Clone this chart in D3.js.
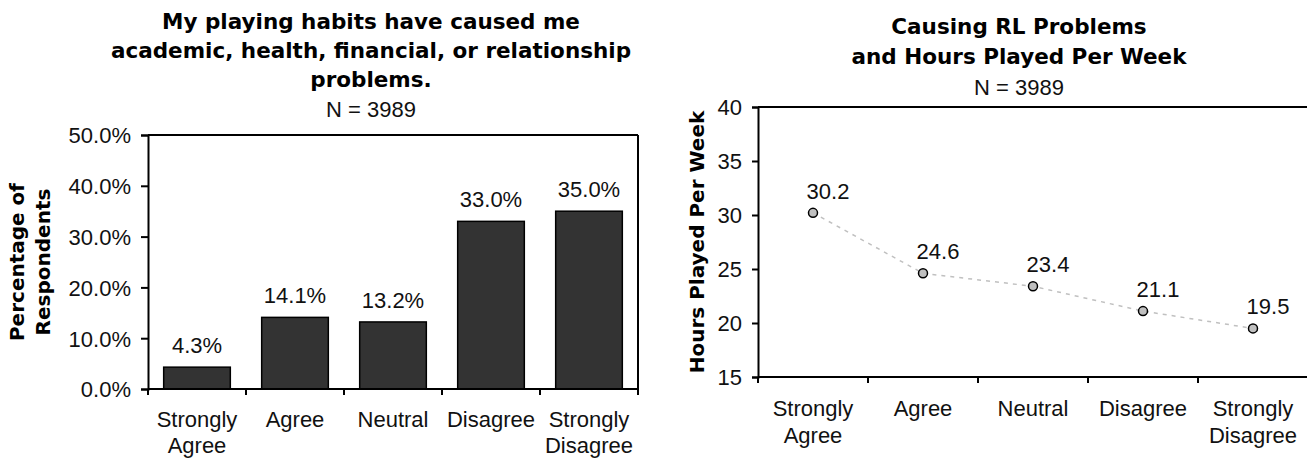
<!DOCTYPE html>
<html>
<head>
<meta charset="utf-8">
<script src="https://cdn.jsdelivr.net/npm/d3@7"></script>
<style>
  html, body { margin: 0; padding: 0; background: #fff; }
  svg { display: block; }
  .reg { font-family: "Liberation Sans", Arial, sans-serif; font-size: 22px; fill: #111; }
  .bold { font-family: "DejaVu Sans", Verdana, sans-serif; font-weight: bold; fill: #000; }
</style>
</head>
<body>
<svg id="chart" width="1307" height="460"></svg>
<script>
// ---------- DATA ----------
const categories = ["Strongly Agree", "Agree", "Neutral", "Disagree", "Strongly Disagree"];
const percentValues = [4.3, 14.1, 13.2, 33.0, 35.0];
const hoursValues = [30.2, 24.6, 23.4, 21.1, 19.5];
const percentTicks = [0, 10, 20, 30, 40, 50];
const hoursTicks = [15, 20, 25, 30, 35, 40];
const leftTitle = ["My playing habits have caused me", "academic, health, financial, or relationship", "problems."];
const rightTitle = ["Causing RL Problems", "and Hours Played Per Week"];
const subtitle = "N = 3989";
const leftYTitle = ["Percentage of", "Respondents"];
const rightYTitle = "Hours Played Per Week";

const svg = d3.select("#chart");

function splitLabel(s) {
  if (s.startsWith("Strongly ")) return ["Strongly", s.slice(9)];
  return [s];
}

function styleAxis(g) {
  g.select(".domain").attr("stroke", "#000").attr("stroke-width", 2);
  g.selectAll(".tick line").attr("stroke", "#000").attr("stroke-width", 2);
}

function categoryAxis(g, x, yBase, baseline1, lineGap) {
  const [r0, r1] = x.range();
  g.append("line").attr("x1", r0).attr("x2", r1).attr("y1", yBase).attr("y2", yBase)
    .attr("stroke", "#000").attr("stroke-width", 2);
  const step = x.step();
  for (let i = 0; i <= categories.length; i++) {
    const bx = r0 + i * step;
    g.append("line").attr("x1", bx).attr("x2", bx).attr("y1", yBase).attr("y2", yBase + 6)
      .attr("stroke", "#000").attr("stroke-width", 2);
  }
  categories.forEach(c => {
    const cx = x(c) + x.bandwidth() / 2;
    const t = g.append("text").attr("class", "reg").attr("text-anchor", "middle")
      .attr("x", cx).attr("y", baseline1);
    splitLabel(c).forEach((ln, i) => {
      t.append("tspan").attr("x", cx).attr("dy", i === 0 ? 0 : lineGap).text(ln);
    });
  });
}

// ================= LEFT CHART =================
{
  const L = { left: 148, right: 638, top: 135, bottom: 389 };
  const x = d3.scaleBand().domain(categories).range([L.left, L.right])
    .paddingInner(0.32).paddingOuter(0.16);
  const y = d3.scaleLinear().domain([0, 50]).range([L.bottom, L.top]);
  const g = svg.append("g");

  const tcx = 371;
  leftTitle.forEach((ln, i) => {
    g.append("text").attr("class", "bold").attr("font-size", 21.5).attr("text-anchor", "middle")
      .attr("x", tcx).attr("y", 29 + i * 29).text(ln);
  });
  g.append("text").attr("class", "reg").attr("text-anchor", "middle")
    .attr("x", tcx).attr("y", 117).text(subtitle);

  g.append("line").attr("x1", L.left).attr("x2", L.right).attr("y1", L.top).attr("y2", L.top)
    .attr("stroke", "#000").attr("stroke-width", 2);
  g.append("line").attr("x1", L.right).attr("x2", L.right).attr("y1", L.top).attr("y2", L.bottom)
    .attr("stroke", "#000").attr("stroke-width", 2);

  g.selectAll("rect.bar").data(categories).join("rect").attr("class", "bar")
    .attr("x", d => x(d)).attr("width", x.bandwidth())
    .attr("y", (d, i) => y(percentValues[i]))
    .attr("height", (d, i) => y(0) - y(percentValues[i]))
    .attr("fill", "#333333").attr("stroke", "#000").attr("stroke-width", 1.5);

  g.selectAll("text.val").data(categories).join("text").attr("class", "reg val")
    .attr("text-anchor", "middle")
    .attr("x", d => x(d) + x.bandwidth() / 2)
    .attr("y", (d, i) => y(percentValues[i]) - 14)
    .text((d, i) => percentValues[i].toFixed(1) + "%");

  const ya = g.append("g").attr("transform", `translate(${L.left},0)`)
    .call(d3.axisLeft(y).tickValues(percentTicks).tickSize(7).tickPadding(10)
      .tickFormat(d => d.toFixed(1) + "%"));
  styleAxis(ya);
  ya.selectAll(".tick text").attr("class", "reg").attr("font-size", null).attr("font-family", null)
    .attr("fill", null).attr("dy", "0.36em");

  categoryAxis(g, x, L.bottom, 427, 26);

  const yt = g.append("text").attr("class", "bold").attr("font-size", 20).attr("text-anchor", "middle")
    .attr("transform", `translate(0,${(L.top + L.bottom) / 2}) rotate(-90)`);
  leftYTitle.forEach((ln, i) => {
    yt.append("tspan").attr("x", 0).attr("y", 24 + i * 26).text(ln);
  });
}

// ================= RIGHT CHART =================
{
  const R = { left: 758, right: 1308, top: 107, bottom: 377 };
  const x = d3.scaleBand().domain(categories).range([R.left, R.right]).paddingInner(0).paddingOuter(0);
  const y = d3.scaleLinear().domain([15, 40]).range([R.bottom, R.top]);
  const g = svg.append("g");

  const tcx = 1019;
  rightTitle.forEach((ln, i) => {
    g.append("text").attr("class", "bold").attr("font-size", 21.5).attr("text-anchor", "middle")
      .attr("x", tcx).attr("y", 34 + i * 30).text(ln);
  });
  g.append("text").attr("class", "reg").attr("text-anchor", "middle")
    .attr("x", tcx).attr("y", 95).text(subtitle);

  g.append("line").attr("x1", R.left).attr("x2", R.right).attr("y1", R.top).attr("y2", R.top)
    .attr("stroke", "#000").attr("stroke-width", 2);
  g.append("line").attr("x1", R.right).attr("x2", R.right).attr("y1", R.top).attr("y2", R.bottom)
    .attr("stroke", "#000").attr("stroke-width", 2);

  const cx = d => x(d) + x.bandwidth() / 2;

  const line = d3.line().x((d, i) => cx(categories[i])).y(d => y(d));
  g.append("path").datum(hoursValues).attr("d", line)
    .attr("fill", "none").attr("stroke", "#c0c0c0").attr("stroke-width", 1.5)
    .attr("stroke-dasharray", "4,5");

  g.selectAll("circle.pt").data(categories).join("circle").attr("class", "pt")
    .attr("cx", d => cx(d)).attr("cy", (d, i) => y(hoursValues[i])).attr("r", 4.5)
    .attr("fill", "#c0c0c0").attr("stroke", "#000").attr("stroke-width", 1.5);

  g.selectAll("text.val").data(categories).join("text").attr("class", "reg val")
    .attr("text-anchor", "middle")
    .attr("x", d => cx(d) + 15)
    .attr("y", (d, i) => y(hoursValues[i]) - 14)
    .text((d, i) => hoursValues[i].toFixed(1));

  const ya = g.append("g").attr("transform", `translate(${R.left},0)`)
    .call(d3.axisLeft(y).tickValues(hoursTicks).tickSize(6).tickPadding(10).tickFormat(d3.format("d")));
  styleAxis(ya);
  ya.selectAll(".tick text").attr("class", "reg").attr("font-size", null).attr("font-family", null)
    .attr("fill", null).attr("dy", "0.36em");

  categoryAxis(g, x, R.bottom, 416, 27);

  g.append("text").attr("class", "bold").attr("font-size", 20).attr("text-anchor", "middle")
    .attr("transform", `translate(704,${(R.top + R.bottom) / 2}) rotate(-90)`)
    .attr("x", 0).attr("y", 0).text(rightYTitle);
}
</script>
</body>
</html>
